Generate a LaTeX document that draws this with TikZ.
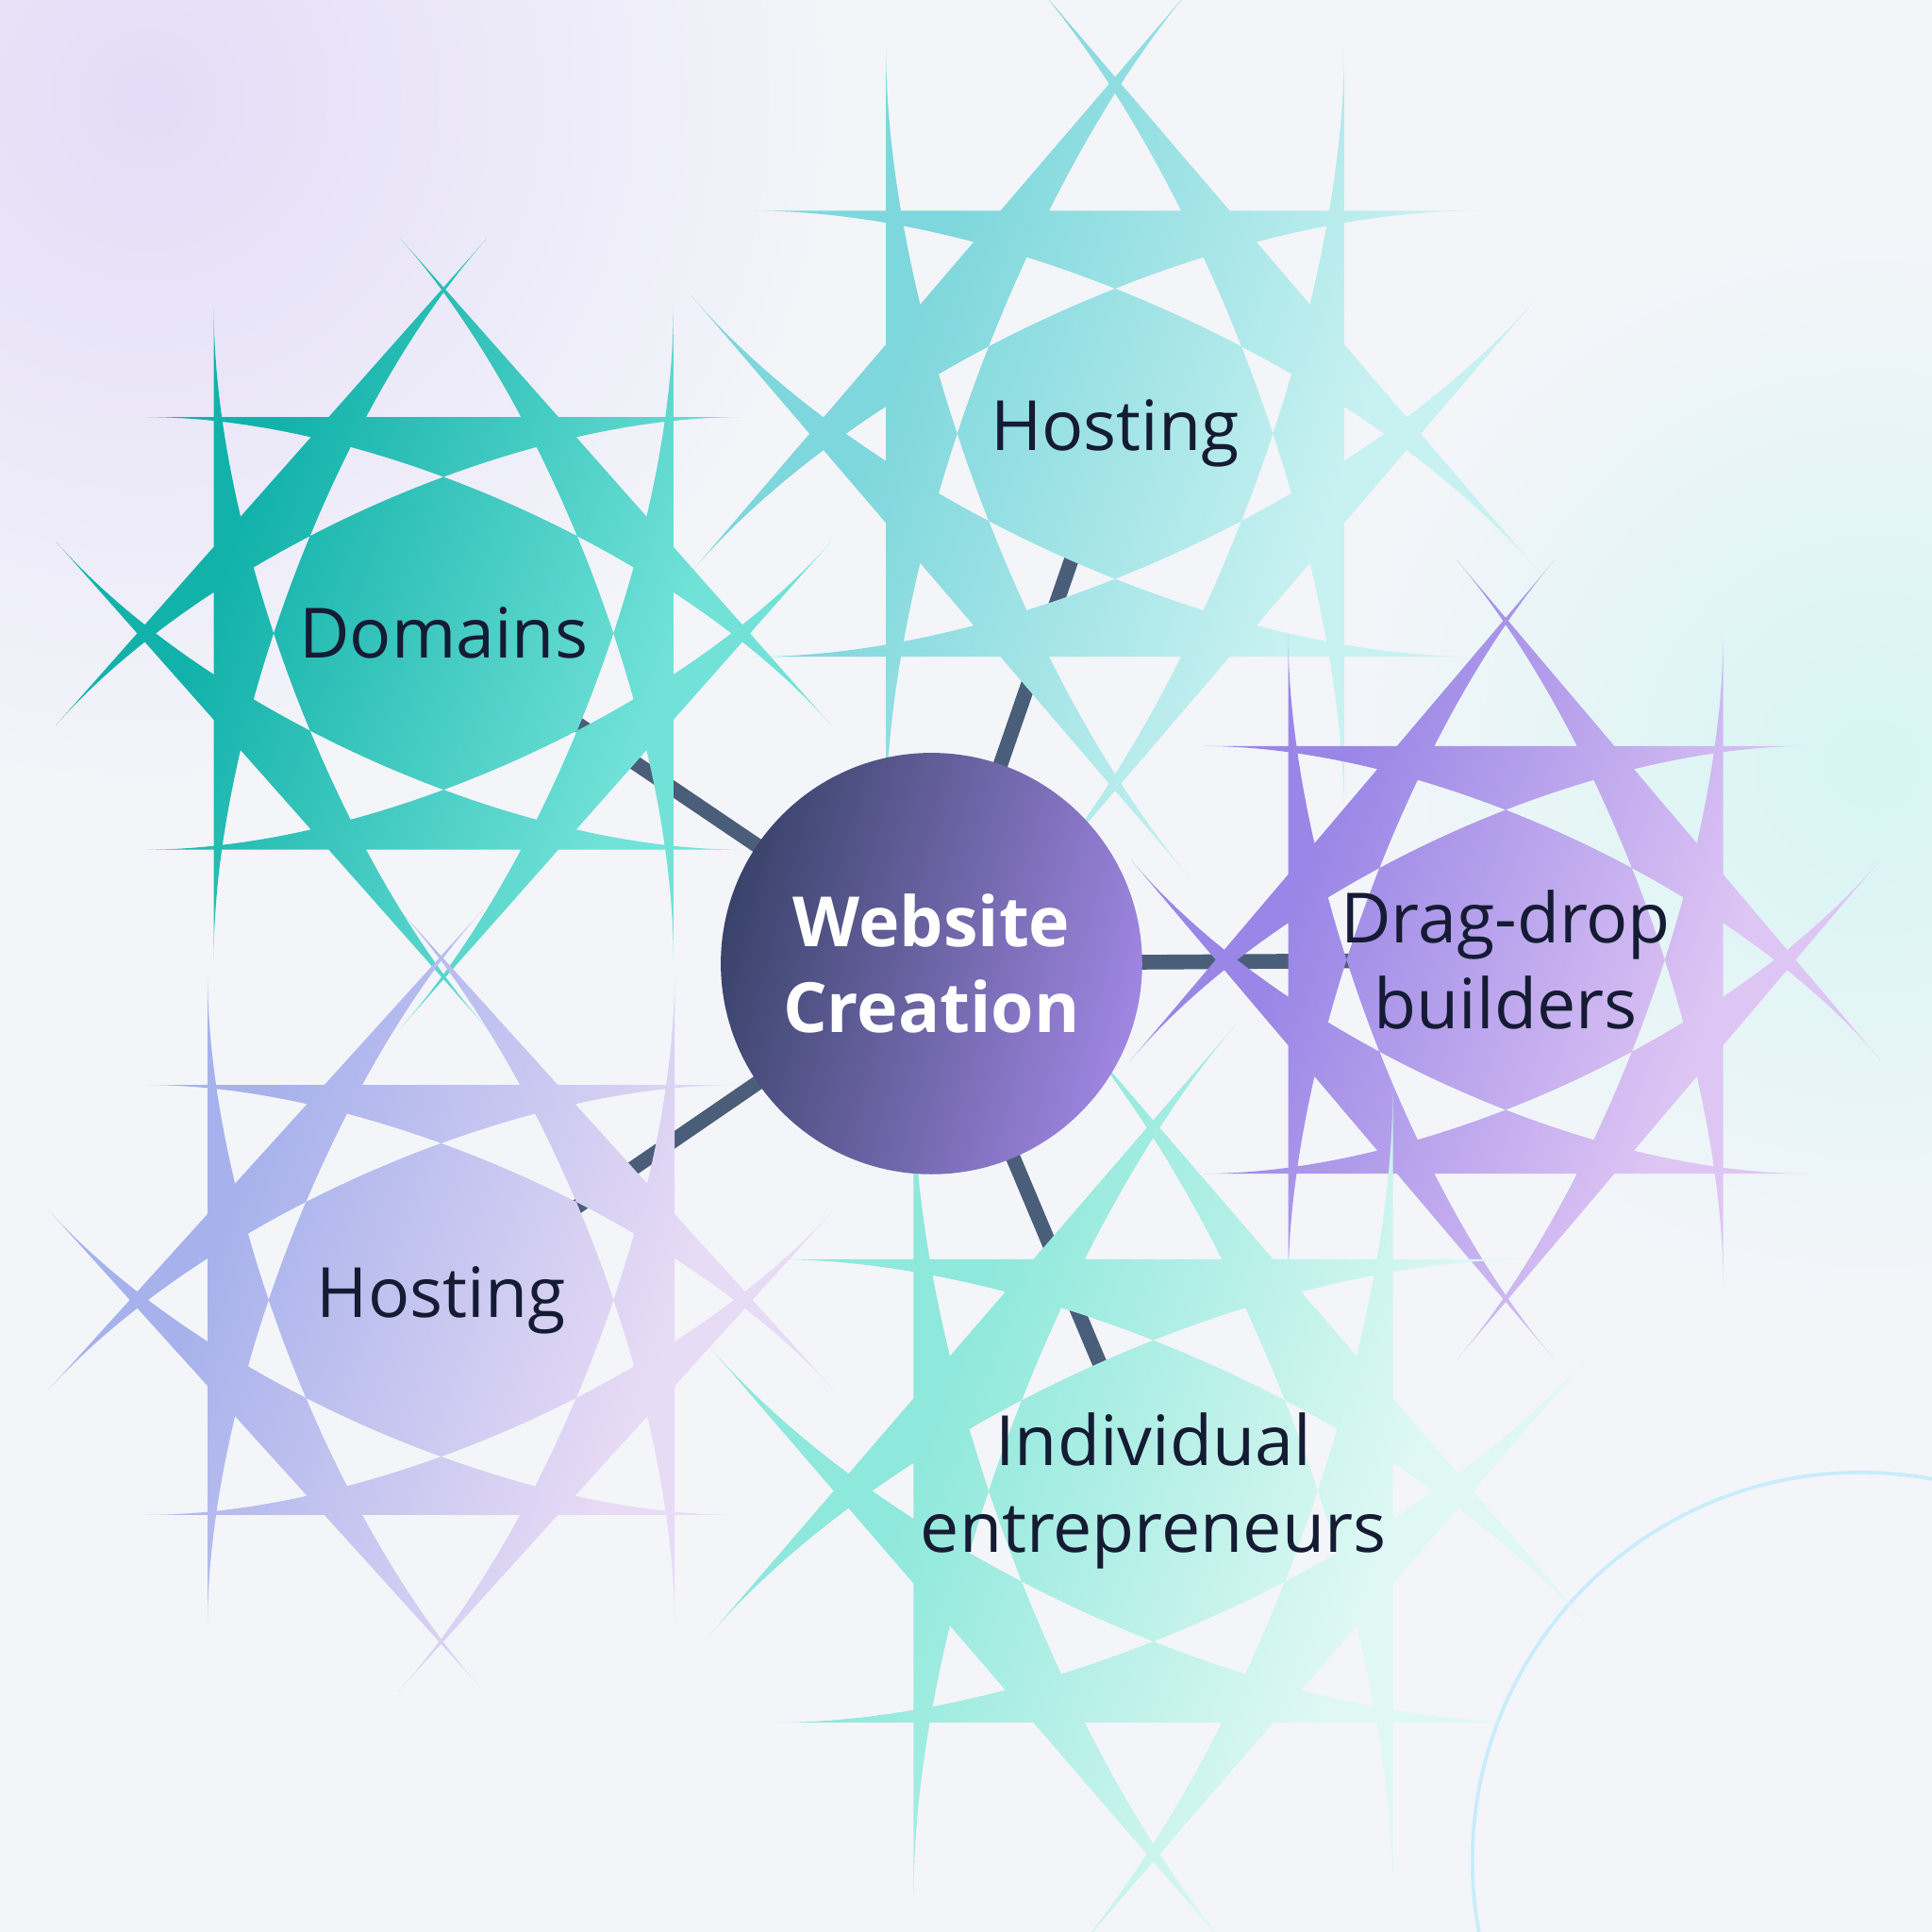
\documentclass[tikz,border=0pt]{standalone}
\usepackage{fontspec}
\setmainfont{Open Sans}
\usetikzlibrary{calc}
\definecolor{bg}{HTML}{F3F5F9}
\definecolor{line}{HTML}{4A5E7A}
\definecolor{lav}{HTML}{E4DCF8}
\definecolor{mint}{HTML}{D6F5F3}
\definecolor{txt}{HTML}{141B33}
\definecolor{hA}{HTML}{7ED7DC}\definecolor{hB}{HTML}{C8F1F1}
\definecolor{dA}{HTML}{12B2AA}\definecolor{dB}{HTML}{72E2D8}
\definecolor{gA}{HTML}{9A86E6}\definecolor{gB}{HTML}{DEC6F4}
\definecolor{kA}{HTML}{A7B2EC}\definecolor{kB}{HTML}{E8DBF5}
\definecolor{iA}{HTML}{8EE8DB}\definecolor{iB}{HTML}{DFF8F4}
\definecolor{cA}{HTML}{39436A}\definecolor{cB}{HTML}{A086E2}
\newcommand\myblob[7]{%
  \shade[left color=#5, right color=#6, shading angle=70, rounded corners=#7]
   ($(#1,#2)+(-#3/2,-#4/5)$) -- ($(#1,#2)+(-#3/4,-#4/2)$) -- ($(#1,#2)+(#3/4,-#4/2)$) -- ($(#1,#2)+(#3/2,-#4/5)$)
   -- ($(#1,#2)+(#3/2,#4/5)$) -- ($(#1,#2)+(#3/4,#4/2)$) -- ($(#1,#2)+(-#3/4,#4/2)$) -- ($(#1,#2)+(-#3/2,#4/5)$) -- cycle;}
\begin{document}
\begin{tikzpicture}[x=0.01cm,y=-0.01cm,
  lbl/.style={font=\fontsize{16}{20}\selectfont, text=txt, align=center},
  conn/.style={line, line width=3.4pt}]
\fill[bg] (0,0) rectangle (1568,1568);
\useasboundingbox (0,0) rectangle (1568,1568);
\shade[inner color=lav, outer color=bg] (120,80) circle (560);
\shade[inner color=mint, outer color=bg] (1520,620) circle (430);
\draw[cyan!22, line width=0.8pt] (1510,1510) circle (315);
% named anchors
\node[circle, minimum size=340] (c) at (756,782) {};
\node (h1) at (905,352) {};
\node (dm) at (360,514) {};
\node (dd) at (1222,779) {};
\node (h2) at (358,1055) {};
\node (ie) at (936,1210) {};
\foreach \t in {h1,dm,dd,h2,ie} \draw[conn] (c.center) -- (\t.center);
% blobs
\myblob{905}{352}{372}{362}{hA}{hB}{110}
\myblob{360}{514}{373}{351}{dA}{dB}{95}
\myblob{1222}{779}{353}{347}{gA}{gB}{95}
\myblob{358}{1055}{379}{349}{kA}{kB}{95}
\myblob{936}{1210}{389}{376}{iA}{iB}{115}
\shade[left color=cA, right color=cB, shading angle=75] (c.center) circle (171);
\node[lbl] at (h1) {Hosting};
\node[lbl] at (dm) {Domains};
\node[lbl] at (dd) {Drag-drop\\builders};
\node[lbl] at (h2) {Hosting};
\node[lbl] at (ie) {Individual\\entrepreneurs};
\node[lbl, text=white, font=\fontsize{16}{20}\selectfont\bfseries] at (c.center) {Website\\Creation};
\end{tikzpicture}
\end{document}
